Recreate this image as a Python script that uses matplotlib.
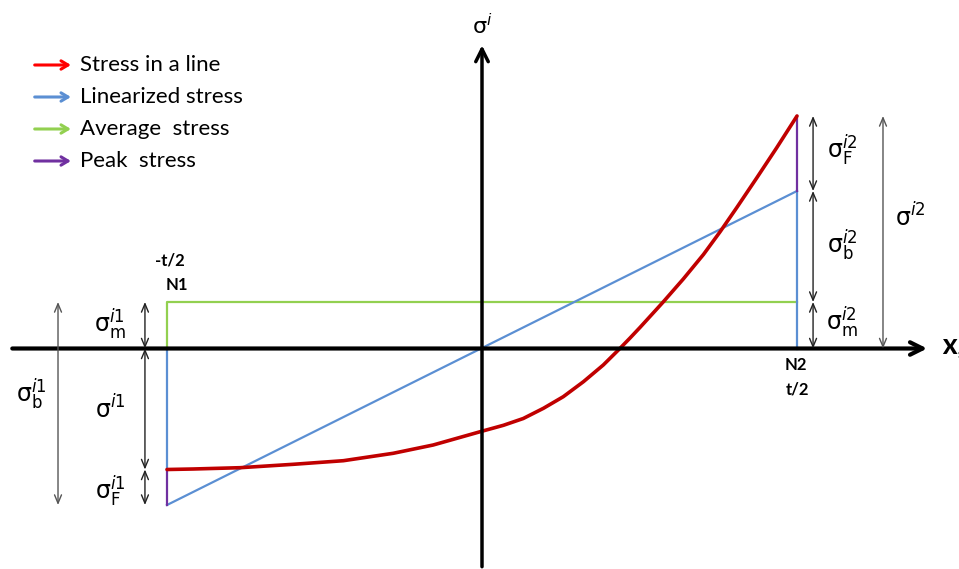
import numpy as np
import matplotlib.pyplot as plt

plt.rcParams['font.family'] = ['Lato', 'DejaVu Sans']
plt.rcParams['mathtext.fontset'] = 'dejavusans'

# through-thickness coordinate, -t/2 .. t/2 mapped to -1 .. 1
node_x = [-1.0, 1.0]
node_names = ['N1', 'N2']
node_pos = ['-t/2', 't/2']

# stress along the line
line_x = [-1.0, -0.917, -0.768, -0.599, -0.440, -0.282, -0.155, 0.0, 0.068,
          0.131, 0.195, 0.258, 0.322, 0.385, 0.433, 0.470, 0.502, 0.555,
          0.576, 0.639, 0.703, 0.756, 0.809, 0.872, 0.935, 1.0]
line_s = [-121.0, -120.5, -119.2, -115.8, -112.2, -104.8, -96.5, -82.7, -76.8,
          -70.0, -59.8, -48.2, -33.2, -16.5, -1.5, 10.5, 21.2, 39.5,
          46.8, 69.5, 94.0, 116.8, 141.0, 170.5, 200.5, 232.5]

# linearized stress at the two ends, average (membrane) stress
lin_s = [-156.5, 157.5]
avg_s = 46.5

legend_labels = ['Stress in a line', 'Linearized stress', 'Average  stress', 'Peak  stress']
legend_colors = ['#ff0000', '#5b8fd3', '#92d050', '#7030a0']

red = '#c00000'
blue = '#5b8fd3'
green = '#92d050'
purple = '#7030a0'

fig = plt.figure(figsize=(9.59, 5.69), dpi=100)
ax = fig.add_axes([0, 0, 1, 1])
ax.set_xlim(-482 / 315, 477 / 315)
ax.set_ylim(-220.5, 348.5)
ax.axis('off')

# main axes
ax.annotate('', xy=(0, 306), xytext=(0, -221), annotation_clip=False,
            arrowprops=dict(arrowstyle='->,head_length=0.9,head_width=0.45', lw=2.5, color='black'))
ax.annotate('', xy=(1.422, 0), xytext=(-1.5, 0), annotation_clip=False,
            arrowprops=dict(arrowstyle='->,head_length=0.9,head_width=0.45', lw=3, color='black'))
ax.text(0.0, 310, r'$\mathrm{σ}^{i}$', fontsize=16, ha='center', va='bottom')
ax.text(1.46, 1, 'X', fontsize=15, fontweight='heavy', ha='left', va='center')
ax.text(1.51, -5, 's', fontsize=9, fontweight='bold', ha='left', va='center')

# average stress
ax.plot([node_x[0], node_x[0], node_x[1]], [0, avg_s, avg_s], color=green, lw=1.6)
# linearized stress
ax.plot(node_x, lin_s, color=blue, lw=1.6)
ax.plot([node_x[0], node_x[0]], [0, line_s[0]], color=blue, lw=1.6)
ax.plot([node_x[1], node_x[1]], [0, lin_s[1]], color=blue, lw=1.6)
# peak stress
ax.plot([node_x[0], node_x[0]], [line_s[0], lin_s[0]], color=purple, lw=1.6)
ax.plot([node_x[1], node_x[1]], [lin_s[1], line_s[-1]], color=purple, lw=1.6)
# stress in a line
ax.plot(line_x, line_s, color=red, lw=2.6, solid_capstyle='round', solid_joinstyle='round')


def dim(x, y0, y1, color):
    ax.annotate('', xy=(x, y1), xytext=(x, y0),
                arrowprops=dict(arrowstyle='<->,head_length=0.6,head_width=0.25',
                                lw=1.0, color=color, shrinkA=0, shrinkB=0))


xl_in, xl_out = -1.07, -1.346
xr_in, xr_out = 1.051, 1.273
dim(xl_in, 0, avg_s, '#222222')
dim(xl_in, 0, line_s[0], '#222222')
dim(xl_in, line_s[0], lin_s[0], '#222222')
dim(xl_out, avg_s, lin_s[0], '#555555')
dim(xr_in, line_s[-1], lin_s[1], '#222222')
dim(xr_in, lin_s[1], avg_s, '#222222')
dim(xr_in, avg_s, 0, '#222222')
dim(xr_out, line_s[-1], 0, '#555555')

lab = dict(fontsize=17, ha='center', va='center')
ax.text(-1.18, 24, r'$\mathrm{σ}_{\mathrm{m}}^{i1}$', **lab)
ax.text(-1.18, -60, r'$\mathrm{σ}^{i1}$', **lab)
ax.text(-1.18, -143, r'$\mathrm{σ}_{\mathrm{F}}^{i1}$', **lab)
ax.text(-1.43, -46, r'$\mathrm{σ}_{\mathrm{b}}^{i1}$', **lab)
ax.text(1.143, 198, r'$\mathrm{σ}_{\mathrm{F}}^{i2}$', **lab)
ax.text(1.143, 103, r'$\mathrm{σ}_{\mathrm{b}}^{i2}$', **lab)
ax.text(1.143, 26, r'$\mathrm{σ}_{\mathrm{m}}^{i2}$', **lab)
ax.text(1.36, 132, r'$\mathrm{σ}^{i2}$', **lab)

# node labels
ax.text(node_x[0] + 0.01, 88, node_pos[0], fontsize=12, fontweight='bold', ha='center', va='center')
ax.text(node_x[0] + 0.03, 63, node_names[0], fontsize=12, fontweight='bold', ha='center', va='center')
ax.text(node_x[1] - 0.005, -16, node_names[1], fontsize=12, fontweight='bold', ha='center', va='center')
ax.text(node_x[1] + 0.0, -41, node_pos[1], fontsize=12, fontweight='bold', ha='center', va='center')

# legend drawn as arrows
for k, (txt, col) in enumerate(zip(legend_labels, legend_colors)):
    yy = 283.5 - 32 * k
    ax.annotate('', xy=(-1.305, yy), xytext=(-1.42, yy),
                arrowprops=dict(arrowstyle='->,head_length=0.5,head_width=0.3', lw=2.2, color=col,
                                shrinkA=0, shrinkB=0))
    ax.text(-1.276, yy, txt, fontsize=16, ha='left', va='center')

fig.savefig('out.png', dpi=100)
